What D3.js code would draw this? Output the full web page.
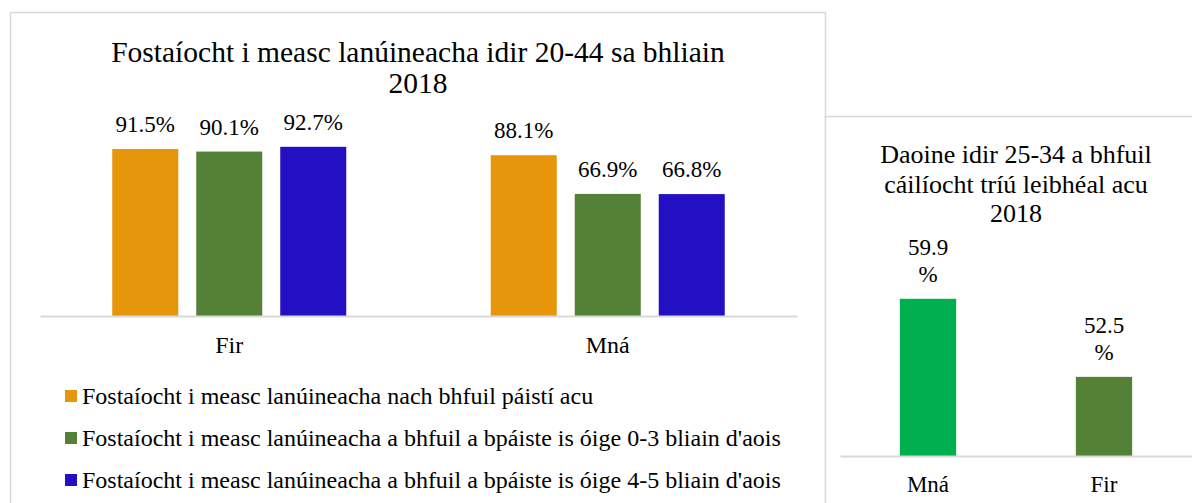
<!DOCTYPE html>
<html><head><meta charset="utf-8">
<script src="https://cdn.jsdelivr.net/npm/d3@7"></script>
</head><body style="margin:0"><svg id="c" width="1192" height="503"></svg>
<script>
const leftTitle = ["Fostaíocht i measc lanúineacha idir 20-44 sa bhliain", "2018"];
const leftCategories = ["Fir", "Mná"];
const leftSeries = [
  "Fostaíocht i measc lanúineacha nach bhfuil páistí acu",
  "Fostaíocht i measc lanúineacha a bhfuil a bpáiste is óige 0-3 bliain d'aois",
  "Fostaíocht i measc lanúineacha a bhfuil a bpáiste is óige 4-5 bliain d'aois"
];
const noChildren = [91.5, 88.1];
const child0to3 = [90.1, 66.9];
const child4to5 = [92.7, 66.8];
const leftColors = ["#E5960B", "#538135", "#2410C4"];

const rightTitle = ["Daoine idir 25-34 a bhfuil", "cáilíocht tríú leibhéal acu", "2018"];
const rightCategories = ["Mná", "Fir"];
const rightValues = [59.9, 52.5];
const rightColors = ["#00B050", "#538135"];

const FONT = "Liberation Serif";
const svg = d3.select("#c").style("display", "block");
const border = "#d9d9d9";
function txt(sel, size) { return sel.style("font-family", FONT).style("font-size", size + "px"); }

// Left chart frame
svg.append("rect").attr("x", 10.5).attr("y", 12.5).attr("width", 815).attr("height", 500)
  .attr("fill", "none").attr("stroke", border).attr("stroke-width", 1.5);
// Right chart frame
svg.append("rect").attr("x", 825.5).attr("y", 116.5).attr("width", 400).attr("height", 400)
  .attr("fill", "#fff").attr("stroke", border).attr("stroke-width", 1.5);

// ---- Left chart
leftTitle.forEach((t, i) => txt(svg.append("text"), 29.5).attr("text-anchor", "middle")
  .attr("x", 418).attr("y", 62 + i * 31).text(t));

const x0 = d3.scaleBand().domain(leftCategories).range([40, 797]);
const x1 = d3.scaleBand().domain(d3.range(3)).range([0, x0.bandwidth()]).paddingInner(0.214).paddingOuter(0.86);
const yL = d3.scaleLinear().domain([0, 100]).range([316, 133.5]);
const seriesVals = [noChildren, child0to3, child4to5];

leftCategories.forEach((c, ci) => {
  const g = svg.append("g").attr("transform", `translate(${x0(c)},0)`);
  seriesVals.forEach((vals, si) => {
    g.append("rect").attr("x", x1(si)).attr("width", x1.bandwidth())
      .attr("y", yL(vals[ci])).attr("height", yL(0) - yL(vals[ci])).attr("fill", leftColors[si]);
    txt(g.append("text"), 23).attr("x", x1(si) + x1.bandwidth() / 2).attr("y", yL(vals[ci]) - 17)
      .attr("text-anchor", "middle").text(vals[ci].toFixed(1) + "%");
  });
});
const axL = svg.append("g").attr("transform", "translate(0,316)")
  .call(d3.axisBottom(x0).tickSize(0).tickPadding(0));
axL.attr("font-family", null).attr("font-size", null);
axL.select(".domain").attr("stroke", border).attr("stroke-width", 2);
txt(axL.selectAll("text"), 24).attr("y", 37).attr("dy", null);

leftSeries.forEach((s, i) => {
  const y = 396 + i * 42;
  svg.append("rect").attr("x", 65).attr("y", y - 6).attr("width", 12).attr("height", 12).attr("fill", leftColors[i]);
  txt(svg.append("text"), 24).attr("x", 82).attr("y", y + 8).text(s);
});

// ---- Right chart
rightTitle.forEach((t, i) => txt(svg.append("text"), 26).attr("text-anchor", "middle")
  .attr("x", 1016).attr("y", 163 + i * 29.5).text(t));

const xR = d3.scaleBand().domain(rightCategories).range([840, 1192]).paddingInner(0.68).paddingOuter(0.34);
const yR = d3.scaleLinear().domain([45, 65]).range([456, 245]);
rightCategories.forEach((c, i) => {
  svg.append("rect").attr("x", xR(c)).attr("width", xR.bandwidth())
    .attr("y", yR(rightValues[i])).attr("height", yR(45) - yR(rightValues[i])).attr("fill", rightColors[i]);
  const cx = xR(c) + xR.bandwidth() / 2;
  txt(svg.append("text"), 23).attr("text-anchor", "middle").attr("x", cx).attr("y", yR(rightValues[i]) - 44).text(rightValues[i].toFixed(1));
  txt(svg.append("text"), 23).attr("text-anchor", "middle").attr("x", cx).attr("y", yR(rightValues[i]) - 17).text("%");
});
const axR = svg.append("g").attr("transform", "translate(0,456)")
  .call(d3.axisBottom(xR).tickSize(0).tickPadding(0));
axR.attr("font-family", null).attr("font-size", null);
axR.select(".domain").attr("stroke", border).attr("stroke-width", 2);
txt(axR.selectAll("text"), 23).attr("y", 36).attr("dy", null);
</script></body></html>
